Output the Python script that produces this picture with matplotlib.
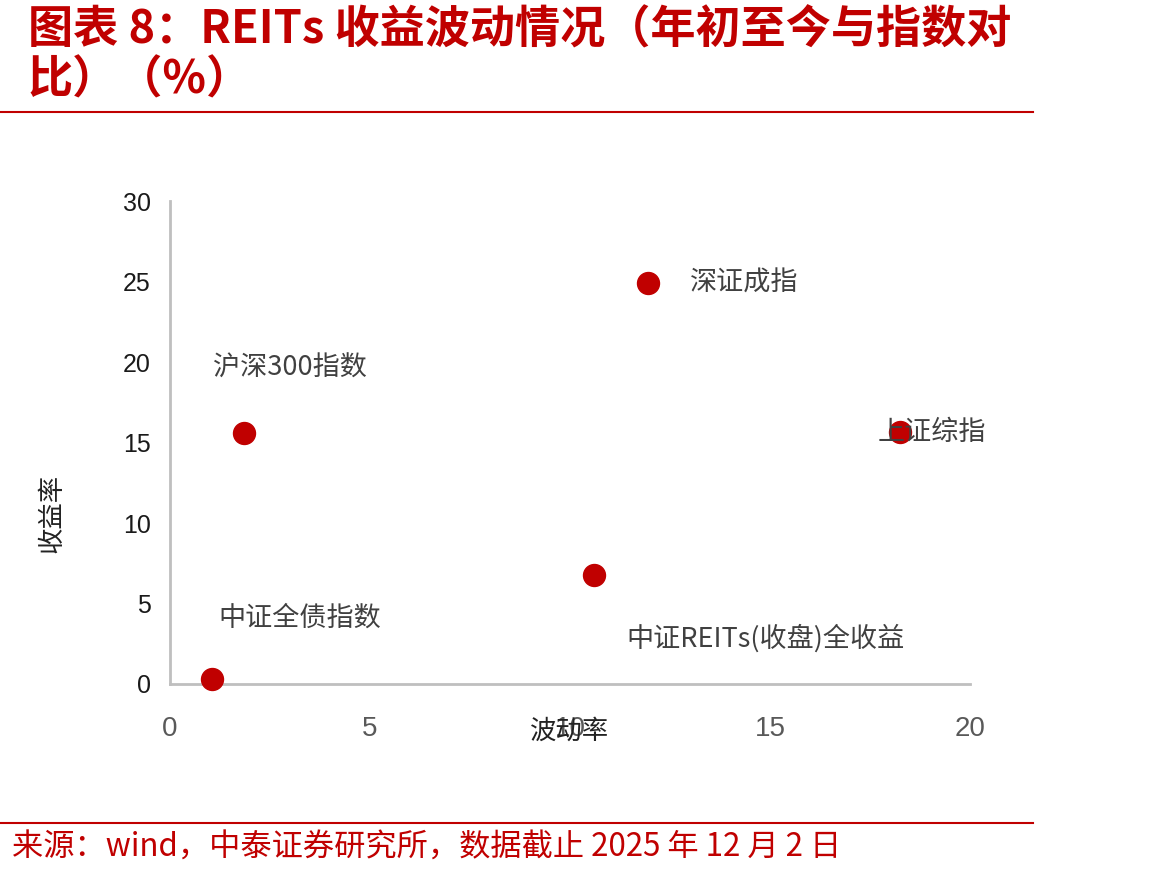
import matplotlib
matplotlib.use("Agg")
import matplotlib.pyplot as plt
from matplotlib.lines import Line2D

plt.rcParams['font.family'] = ['Noto Sans CJK SC', 'DejaVu Sans']

# 数据
names = ['中证全债指数', '沪深300指数', '中证REITs(收盘)全收益', '深证成指', '上证综指']
volatility = [1.05, 1.85, 10.6, 11.95, 18.25]
returns = [0.3, 15.6, 6.8, 24.9, 15.65]
# 标签位置（数据坐标）
label_x = [1.22, 1.08, 11.4, 13.0, 17.7]
label_y = [4.1, 19.6, 2.85, 24.9, 15.65]

red = '#C00000'
grey_txt = '#404040'

fig = plt.figure(figsize=(11.71, 8.76), dpi=100)
ax = fig.add_axes([0.1452, 0.2192, 0.6832, 0.5513])

ax.scatter(volatility, returns, s=250, color=red, zorder=3, clip_on=False)
for n, tx, ty in zip(names, label_x, label_y):
    ax.text(tx, ty, n, fontsize=19.5, color=grey_txt, va='center', ha='left', zorder=4)

ax.set_xlim(0, 20)
ax.set_ylim(0, 30)
ax.set_xticks([0, 5, 10, 15, 20])
ax.set_yticks([0, 5, 10, 15, 20, 25, 30])
for lab in ax.get_xticklabels():
    lab.set_family('Liberation Sans')
    lab.set_fontsize(20)
for lab in ax.get_yticklabels():
    lab.set_family('Liberation Sans')
    lab.set_fontsize(18)
ax.tick_params(axis='x', length=0, pad=23, labelcolor='#595959')
ax.tick_params(axis='y', length=0, pad=14, labelcolor='#1a1a1a')
for s in ['top', 'right']:
    ax.spines[s].set_visible(False)
for s in ['left', 'bottom']:
    ax.spines[s].set_color('#BFBFBF')
    ax.spines[s].set_linewidth(2)

fig.text(52 / 1171, 1 - 513 / 876, '收益率', rotation=90, fontsize=19,
         color='#222222', ha='center', va='center')
fig.text(570 / 1171, 1 - 731 / 876, '波动率', fontsize=19,
         color='#222222', ha='center', va='center')

# 标题
fig.text(28 / 1171, 1 - 30 / 876, '图表 8：REITs 收益波动情况（年初至今与指数对',
         fontsize=32.5, fontweight='bold', color=red, ha='left', va='center')
fig.text(28 / 1171, 1 - 80 / 876, '比）（%）',
         fontsize=32.5, fontweight='bold', color=red, ha='left', va='center')
fig.add_artist(Line2D([0, 1033 / 1171], [1 - 112 / 876] * 2, color=red, lw=1.5))
fig.add_artist(Line2D([0, 1033 / 1171], [1 - 823 / 876] * 2, color=red, lw=1.5))
fig.text(12 / 1171, 1 - 848 / 876, '来源：wind，中泰证券研究所，数据截止 2025 年 12 月 2 日',
         fontsize=22.5, color=red, ha='left', va='center')

fig.savefig('out.png', dpi=100)
